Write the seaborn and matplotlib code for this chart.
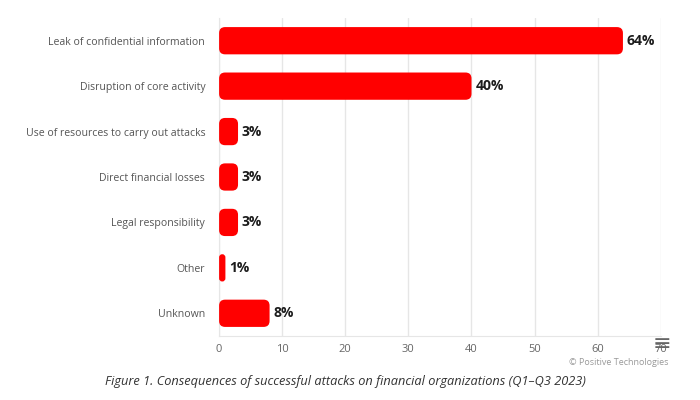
import matplotlib
matplotlib.use("Agg")
import matplotlib.pyplot as plt
import seaborn as sns
import pandas as pd
from matplotlib.patches import FancyBboxPatch

# Chart data
categories = [
    "Leak of confidential information",
    "Disruption of core activity",
    "Use of resources to carry out attacks",
    "Direct financial losses",
    "Legal responsibility",
    "Other",
    "Unknown",
]
values = [64, 40, 3, 3, 3, 1, 8]

df = pd.DataFrame({"category": categories, "value": values})

sns.set_style("white")
plt.rcParams["font.family"] = ["Open Sans", "DejaVu Sans"]

fig = plt.figure(figsize=(7, 4), dpi=100)
ax = fig.add_axes([0.313, 0.16, 0.631, 0.795])

sns.barplot(data=df, x="value", y="category", color="#ff0000", width=0.6,
            saturation=1, ax=ax, zorder=3)

ax.set_xlim(0, 70)
ax.set_xticks(range(0, 71, 10))
ax.set_xlabel("")
ax.set_ylabel("")

# Swap plain bars for rounded ones (keeping the bar geometry from seaborn)
px_x = 70 / (0.631 * 700)
px_y = 7 / (0.795 * 400)
aspect = px_y / px_x
for p in list(ax.patches):
    x0, y0 = p.get_x(), p.get_y()
    w, h = p.get_width(), p.get_height()
    r = min(6 * px_x, w / 2)
    fb = FancyBboxPatch((x0, y0), w, h,
                        boxstyle=f"round,pad=0,rounding_size={r}",
                        mutation_aspect=aspect, facecolor="#ff0000",
                        edgecolor="none", zorder=3)
    p.remove()
    ax.add_patch(fb)
    ax.text(x0 + w + 0.6, y0 + h / 2, f"{int(w)}%", va="center", ha="left",
            fontsize=10, fontweight="bold", color="#1c1c1c", zorder=4)

ax.grid(axis="x", color="#e6e6e6", linewidth=1, zorder=0)
for s in ["top", "right"]:
    ax.spines[s].set_visible(False)
ax.spines["left"].set_color("#e6e6e6")
ax.spines["bottom"].set_color("#e6e6e6")
ax.tick_params(axis="y", length=0, pad=10, labelsize=7.6, labelcolor="#555555")
ax.tick_params(axis="x", length=0, pad=6, labelsize=8, labelcolor="#666666")

fig.text(0.955, 0.093, "© Positive Technologies", ha="right", va="center",
         fontsize=6.5, color="#999999")
fig.text(0.946, 0.14, "≡", ha="center", va="center", fontsize=16,
         color="#666666", family="DejaVu Sans")
fig.text(0.494, 0.045,
         "Figure 1. Consequences of successful attacks on financial organizations (Q1–Q3 2023)",
         ha="center", va="center", fontsize=9.2, style="italic", color="#333333")

fig.savefig("out.png", dpi=100)
